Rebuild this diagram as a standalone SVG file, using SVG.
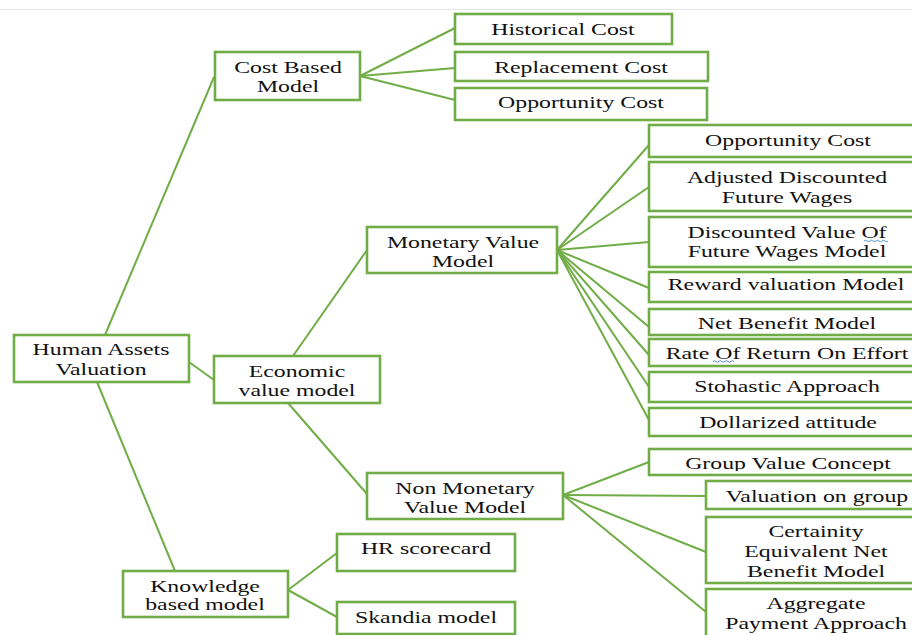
<svg xmlns="http://www.w3.org/2000/svg" width="912" height="635" viewBox="0 0 912 635">
<style>
.b{fill:#fff;stroke:#70AD47;stroke-width:2.6}
.c{stroke:#70AD47;stroke-width:2;fill:none}
.t{font-family:"Liberation Serif","Times New Roman",serif;font-size:17px;fill:#111;text-anchor:middle}
.w{stroke:#4a7fd6;stroke-width:0.9;fill:none}
</style>
<defs>
<clipPath id="gclip"><rect x="640" y="440" width="280" height="31"/></clipPath>
</defs>
<rect width="912" height="635" fill="#fff"/>
<line x1="0" y1="9.5" x2="912" y2="9.5" stroke="#e8e8e8" stroke-width="1"/>
<g id="connectors">
<line class="c" x1="105" y1="335" x2="214" y2="77"/>
<line class="c" x1="189" y1="362" x2="214" y2="380"/>
<line class="c" x1="97" y1="382" x2="175" y2="571"/>
<line class="c" x1="360" y1="76" x2="455" y2="28"/>
<line class="c" x1="360" y1="76" x2="455" y2="68"/>
<line class="c" x1="360" y1="76" x2="455" y2="100"/>
<line class="c" x1="293" y1="356" x2="367" y2="250"/>
<line class="c" x1="288" y1="403" x2="367" y2="494"/>
<line class="c" x1="557" y1="250" x2="649" y2="145"/>
<line class="c" x1="557" y1="250" x2="649" y2="187"/>
<line class="c" x1="557" y1="250" x2="649" y2="242"/>
<line class="c" x1="557" y1="250" x2="649" y2="288"/>
<line class="c" x1="557" y1="250" x2="649" y2="327"/>
<line class="c" x1="557" y1="250" x2="649" y2="355"/>
<line class="c" x1="557" y1="250" x2="649" y2="387"/>
<line class="c" x1="557" y1="250" x2="649" y2="420"/>
<line class="c" x1="563" y1="495" x2="649" y2="462"/>
<line class="c" x1="563" y1="495" x2="706" y2="496"/>
<line class="c" x1="563" y1="495" x2="706" y2="552"/>
<line class="c" x1="563" y1="495" x2="706" y2="612"/>
<line class="c" x1="288" y1="590" x2="337" y2="553"/>
<line class="c" x1="288" y1="590" x2="337" y2="617"/>
</g>
<g id="human"><rect class="b" x="14" y="335" width="175" height="47"/>
<text class="t" transform="translate(101,355) scale(1.4 1)">Human Assets</text>
<text class="t" transform="translate(101,375) scale(1.4 1)">Valuation</text></g>
<g id="costbased"><rect class="b" x="215" y="52" width="145" height="48"/>
<text class="t" transform="translate(288,73) scale(1.4 1)">Cost Based</text>
<text class="t" transform="translate(288,92) scale(1.4 1)">Model</text></g>
<g id="historical"><rect class="b" x="455" y="14" width="217" height="30"/>
<text class="t" transform="translate(563,35) scale(1.4 1)">Historical Cost</text></g>
<g id="replacement"><rect class="b" x="455" y="52" width="253" height="29"/>
<text class="t" transform="translate(581,73) scale(1.4 1)">Replacement Cost</text></g>
<g id="opportunity1"><rect class="b" x="455" y="88" width="252" height="32"/>
<text class="t" transform="translate(581,108) scale(1.4 1)">Opportunity Cost</text></g>
<g id="economic"><rect class="b" x="214" y="356" width="166" height="47"/>
<text class="t" transform="translate(297,377) scale(1.4 1)">Economic</text>
<text class="t" transform="translate(297,396) scale(1.4 1)">value model</text></g>
<g id="monetary"><rect class="b" x="367" y="227" width="190" height="46"/>
<text class="t" transform="translate(463,248) scale(1.4 1)">Monetary Value</text>
<text class="t" transform="translate(463,267) scale(1.4 1)">Model</text></g>
<g id="nonmonetary"><rect class="b" x="367" y="473" width="196" height="46"/>
<text class="t" transform="translate(465,494) scale(1.4 1)">Non Monetary</text>
<text class="t" transform="translate(465,513) scale(1.4 1)">Value Model</text></g>
<g id="knowledge"><rect class="b" x="123" y="571" width="165" height="46"/>
<text class="t" transform="translate(205,592) scale(1.4 1)">Knowledge</text>
<text class="t" transform="translate(205,610) scale(1.4 1)">based model</text></g>
<g id="hr"><rect class="b" x="337" y="534" width="178" height="37"/>
<text class="t" transform="translate(426,554) scale(1.4 1)">HR scorecard</text></g>
<g id="skandia"><rect class="b" x="337" y="602" width="178" height="32"/>
<text class="t" transform="translate(426,623) scale(1.4 1)">Skandia model</text></g>
<g id="opportunity2"><rect class="b" x="649" y="125" width="280" height="32"/>
<text class="t" transform="translate(788,146) scale(1.4 1)">Opportunity Cost</text></g>
<g id="adjusted"><rect class="b" x="649" y="162" width="280" height="49"/>
<text class="t" transform="translate(787,183) scale(1.4 1)">Adjusted Discounted</text>
<text class="t" transform="translate(787,203) scale(1.4 1)">Future Wages</text></g>
<g id="discounted"><rect class="b" x="649" y="217" width="280" height="50"/>
<text class="t" transform="translate(787,238) scale(1.4 1)">Discounted Value Of</text>
<text class="t" transform="translate(787,257) scale(1.4 1)">Future Wages Model</text>
<path class="w" d="M864 241 q1.5 -1.5 3 0 t3 0 t3 0 t3 0 t3 0 t3 0 t3 0 t3 0"/></g>
<g id="reward"><rect class="b" x="649" y="272" width="280" height="30"/>
<text class="t" transform="translate(786,290) scale(1.4 1)">Reward valuation Model</text></g>
<g id="netbenefit"><rect class="b" x="649" y="309" width="280" height="26"/>
<text class="t" transform="translate(787,329) scale(1.4 1)">Net Benefit Model</text></g>
<g id="rate"><rect class="b" x="649" y="339" width="280" height="27"/>
<text class="t" transform="translate(787,359) scale(1.4 1)">Rate Of Return On Effort</text>
<path class="w" d="M713 361.5 q1.5 -1.5 3 0 t3 0 t3 0 t3 0 t3 0 t3 0 t3 0"/></g>
<g id="stohastic"><rect class="b" x="649" y="372" width="280" height="30"/>
<text class="t" transform="translate(787,392) scale(1.4 1)">Stohastic Approach</text></g>
<g id="dollarized"><rect class="b" x="649" y="408" width="280" height="28"/>
<text class="t" transform="translate(788,428) scale(1.4 1)">Dollarized attitude</text></g>
<g id="groupvalue"><rect class="b" x="649" y="449" width="280" height="26"/>
<g clip-path="url(#gclip)"><text class="t" transform="translate(788,469) scale(1.4 1)">Group Value Concept</text></g></g>
<g id="valuationgroup"><rect class="b" x="706" y="481" width="222" height="28"/>
<text class="t" transform="translate(817,502) scale(1.4 1)">Valuation on group</text></g>
<g id="certainity"><rect class="b" x="706" y="517" width="222" height="66"/>
<text class="t" transform="translate(816,537) scale(1.4 1)">Certainity</text>
<text class="t" transform="translate(816,557) scale(1.4 1)">Equivalent Net</text>
<text class="t" transform="translate(816,577) scale(1.4 1)">Benefit Model</text></g>
<g id="aggregate"><rect class="b" x="706" y="589" width="222" height="60"/>
<text class="t" transform="translate(816,609) scale(1.4 1)">Aggregate</text>
<text class="t" transform="translate(816,629) scale(1.4 1)">Payment Approach</text></g>
</svg>
